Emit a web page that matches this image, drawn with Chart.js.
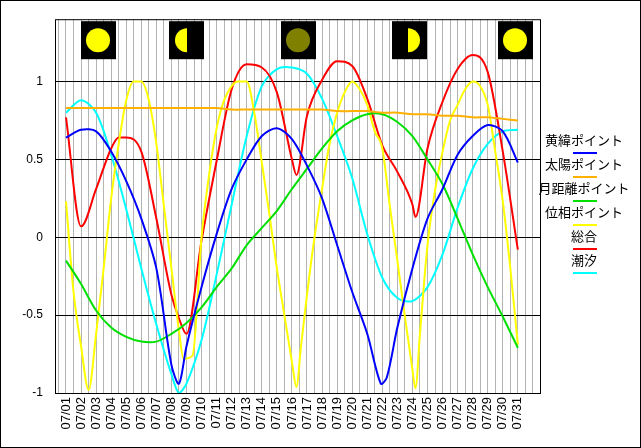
<!DOCTYPE html>
<html>
<head>
<meta charset="utf-8">
<script src="https://cdn.jsdelivr.net/npm/chart.js@4"></script>
<style>
  html, body { margin: 0; padding: 0; background: #fff; }
  #wrap { width: 641px; height: 448px; }
</style>
</head>
<body>
<div id="wrap"><canvas id="c" width="641" height="448"></canvas></div>
<script>
// series names, in legend order
const names = ["黄緯ポイント", "太陽ポイント", "月距離ポイント", "位相ポイント", "総合", "潮汐"];
const colors = ["#0000ff", "#ffb000", "#00e000", "#ffff00", "#ff0000", "#00ffff"];
// smooth curves get bezier tension, cusp-heavy ones monotone
const modes = ["default", "default", "default", "monotone", "monotone", "default"];

const daily = [1,2,3,4,5,6,7,8,9,10,11,12,13,14,15,16,17,18,19,20,21,22,23,24,25,26,27,28,29,30,31];

// 黄緯
const eclDays = [1,2,3,4,5,6,7,8,8.5,9,10,11,12,13,14,15,16,17,18,19,20,21,21.9,22.3,23,24,25,26,27,28,29,30,31];
const eclVals = [0.64,0.69,0.68,0.55,0.36,0.12,-0.2,-0.82,-0.94,-0.7,-0.32,0.02,0.31,0.5,0.65,0.7,0.63,0.46,0.25,-0.05,-0.35,-0.62,-0.94,-0.9,-0.58,-0.2,0.12,0.31,0.53,0.65,0.72,0.68,0.48];
// 太陽
const sunVals = [0.83,0.83,0.83,0.83,0.83,0.83,0.83,0.83,0.83,0.83,0.83,0.82,0.82,0.82,0.82,0.82,0.82,0.82,0.81,0.81,0.81,0.8,0.8,0.79,0.79,0.78,0.78,0.77,0.77,0.76,0.75];
// 月距離
const distVals = [-0.15,-0.3,-0.47,-0.58,-0.64,-0.67,-0.67,-0.62,-0.55,-0.45,-0.32,-0.2,-0.05,0.06,0.17,0.31,0.44,0.57,0.68,0.75,0.79,0.79,0.74,0.65,0.5,0.34,0.12,-0.11,-0.32,-0.51,-0.71];
// 位相
const phaseDays = [1,1.5,2,2.5,3,3.5,4,4.5,5,5.5,6,6.5,7,7.5,8,8.5,8.8,9.4,10,10.5,11,11.5,12,12.4,13,13.5,14,14.5,15,15.5,16,16.3,16.6,17,17.5,18,18.5,19,19.5,20,20.5,21,21.5,22,22.5,23,23.5,24,24.2,24.5,25,25.5,26,26.5,27,27.5,28,28.5,29,29.5,30,30.5,31];
const phaseVals = [0.23,-0.35,-0.7,-0.98,-0.62,-0.2,0.25,0.6,0.88,1.0,1.0,0.88,0.6,0.2,-0.2,-0.6,-0.78,-0.76,0.0,0.4,0.7,0.88,0.97,1.0,1.0,0.8,0.48,0.15,-0.2,-0.5,-0.8,-0.96,-0.7,-0.37,0.0,0.31,0.6,0.8,0.93,1.0,0.95,0.85,0.68,0.57,0.2,-0.15,-0.51,-0.85,-0.97,-0.62,-0.05,0.3,0.55,0.75,0.85,0.95,1.0,0.97,0.85,0.55,0.23,-0.2,-0.69];
// 総合
const totalDays = [1,2,3,4,4.5,5,6,7,8,8.5,9,10,11,12,13,14,15,16,16.3,17,18,19,20,21,22,23,24,24.2,25,26,27,28,29,30,31];
const totalVals = [0.77,0.07,0.31,0.57,0.64,0.64,0.55,0.12,-0.37,-0.52,-0.62,-0.02,0.49,0.95,1.11,1.09,0.93,0.5,0.4,0.78,1.01,1.13,1.1,0.89,0.59,0.42,0.21,0.13,0.57,0.87,1.08,1.17,1.06,0.55,-0.08];
// 潮汐
const tideDays = [1,2,3,4,5,6,7,8,8.5,9,10,11,12,13,14,15,16,17,18,19,20,21,22,23,24,25,26,27,28,29,30,31];
const tideVals = [0.8,0.88,0.8,0.53,0.18,-0.2,-0.56,-0.88,-1.0,-0.94,-0.66,-0.24,0.21,0.65,0.97,1.08,1.09,1.05,0.89,0.65,0.38,0.02,-0.26,-0.39,-0.41,-0.32,-0.11,0.19,0.44,0.6,0.68,0.69];

// moon icons: day position and phase
const moonDays = [3.1, 9.0, 16.4, 23.8, 30.8];
const moonKinds = ["full", "leftHalf", "new", "rightHalf", "full"];

const yTicks = [-1, -0.5, 0, 0.5, 1];

const pts = (xs, ys) => xs.map((x, i) => ({ x: x, y: ys[i] }));
const seriesData = [
  pts(eclDays, eclVals), pts(daily, sunVals), pts(daily, distVals),
  pts(phaseDays, phaseVals), pts(totalDays, totalVals), pts(tideDays, tideVals)
];

const frame = {
  id: "frame",
  beforeDraw(chart) {
    const ctx = chart.ctx;
    ctx.save();
    ctx.fillStyle = "#fff";
    ctx.fillRect(0, 0, chart.width, chart.height);
    ctx.restore();
  },
  afterDatasetsDraw(chart) {
    const ctx = chart.ctx, a = chart.chartArea, xs = chart.scales.x;
    ctx.save();
    ctx.strokeStyle = "#000";
    ctx.lineWidth = 1;
    ctx.strokeRect(a.left + 0.5, a.top + 0.5, a.right - a.left, a.bottom - a.top);
    ctx.strokeRect(0.5, 0.5, chart.width - 1, chart.height - 1);
    // moons
    moonDays.forEach((d, i) => {
      const cx = Math.round(xs.getPixelForValue(d));
      const top = a.top + 2;
      ctx.fillStyle = "#000";
      ctx.fillRect(cx - 17, top, 35, 38);
      const cy = top + 19;
      const kind = moonKinds[i];
      ctx.fillStyle = kind === "new" ? "#808000" : "#ffff00";
      ctx.beginPath();
      if (kind === "leftHalf") ctx.arc(cx + 1, cy, 12, Math.PI / 2, Math.PI * 1.5);
      else if (kind === "rightHalf") ctx.arc(cx - 1, cy, 12, -Math.PI / 2, Math.PI / 2);
      else ctx.arc(cx, cy, 12, 0, Math.PI * 2);
      ctx.fill();
    });
    // legend
    ctx.font = "13px 'Noto Sans CJK JP'";
    ctx.textAlign = "center";
    ctx.textBaseline = "middle";
    names.forEach((n, i) => {
      const ty = 140 + i * 24;
      ctx.fillStyle = "#000";
      ctx.fillText(n, 584, ty);
      ctx.strokeStyle = colors[i];
      ctx.lineWidth = 2;
      ctx.beginPath();
      ctx.moveTo(573, ty + 13);
      ctx.lineTo(597, ty + 13);
      ctx.stroke();
    });
    ctx.restore();
  }
};

new Chart(document.getElementById("c"), {
  type: "line",
  data: {
    datasets: names.map((n, i) => ({
      label: n,
      data: seriesData[i],
      borderColor: colors[i],
      borderWidth: 2,
      pointRadius: 0,
      fill: false,
      tension: 0.3,
      cubicInterpolationMode: modes[i]
    }))
  },
  options: {
    responsive: false,
    animation: false,
    layout: { padding: { top: 16, right: 101, bottom: 0, left: 0 } },
    plugins: { legend: { display: false }, tooltip: { enabled: false } },
    scales: {
      x: {
        type: "linear",
        min: 0.27,
        max: 32.47,
        afterBuildTicks(s) {
          const t = [];
          for (let v = 0.5; v <= 32; v += 0.5) t.push({ value: v });
          s.ticks = t;
        },
        afterFit(s) { s.height = 55; },
        grid: { color: "#b4b4b4", drawTicks: false, lineWidth: 1 },
        border: { display: false },
        ticks: {
          autoSkip: false,
          minRotation: 90,
          maxRotation: 90,
          padding: 4,
          color: "#000",
          font: { family: "'Liberation Sans'", size: 13 },
          callback: v => (Number.isInteger(v) && v >= 1 && v <= 31) ? "07/" + String(v).padStart(2, "0") : ""
        }
      },
      y: {
        min: -1,
        max: 1.4,
        afterBuildTicks(s) { s.ticks = yTicks.map(v => ({ value: v })); },
        afterFit(s) { s.width = 55; },
        grid: { color: "#000", drawTicks: false, lineWidth: 1 },
        border: { display: false },
        ticks: {
          padding: 12,
          color: "#000",
          font: { family: "'Liberation Sans'", size: 12 },
          callback: v => String(v)
        }
      }
    }
  },
  plugins: [frame]
});
</script>
</body>
</html>
